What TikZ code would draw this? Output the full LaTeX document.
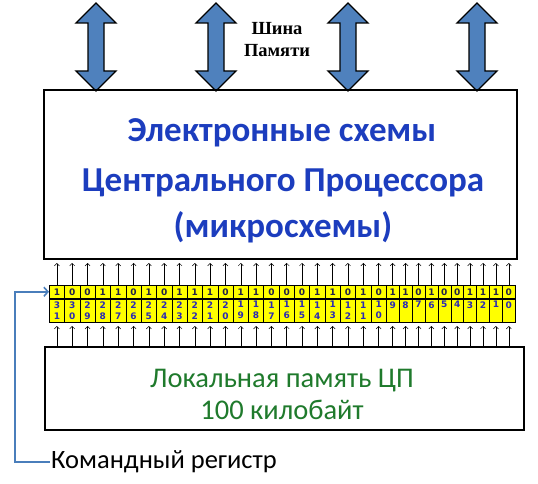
\documentclass[tikz,border=0pt]{standalone}
\usepackage{fontspec}
\setmainfont{Carlito}
\newfontfamily\busfont{Liberation Serif}
\newfontfamily\cellfont{DejaVu Sans}
\usetikzlibrary{positioning,arrows.meta}

\definecolor{busblue}{HTML}{4F81BD}
\definecolor{cpublue}{HTML}{1C3DBE}
\definecolor{memgreen}{HTML}{1F7A2C}
\definecolor{regyellow}{HTML}{FFFF00}
\definecolor{linkblue}{HTML}{4A7EBB}
\definecolor{bitnavy}{HTML}{22224A}
\definecolor{idxblue}{HTML}{2A2AB4}

% значения битов командного регистра (31 ... 0)
\def\regbits{{1,0,0,1,1,0,1,0,1,1,1,0,1,1,0,0,0,1,1,0,1,0,1,1,0,1,0,0,1,1,1,0}}

\begin{document}
\begin{tikzpicture}[x=1pt,y=-1pt,
    box/.style={draw,line width=2pt,inner sep=0pt},
    busarrow/.style={fill=busblue,draw=black,line width=1.3pt,line join=miter},
    valcell/.style={draw,line width=0.5pt,fill=regyellow,minimum height=13pt,inner sep=0pt,
        text=bitnavy,font=\cellfont\bfseries\fontsize{9}{9}\selectfont},
    idxcell/.style={draw,line width=0.5pt,fill=regyellow,minimum height=23pt,inner sep=0pt,
        align=center,text=idxblue,font=\cellfont\bfseries\fontsize{9}{11}\selectfont},
    wire/.style={-{Straight Barb[length=2.5pt,width=5pt]},line width=0.5pt},
    link/.style={-{Straight Barb[length=4pt,width=9pt]},draw=linkblue,line width=1.6pt}]

    \useasboundingbox (0,0) rectangle (538,484);

    % шина памяти
    \foreach \x in {96,216,348,477}
        \draw[busarrow] (\x,3) -- (\x+20,23) -- (\x+8,23) -- (\x+8,71) -- (\x+20,71)
            -- (\x,91) -- (\x-20,71) -- (\x-8,71) -- (\x-8,23) -- (\x-20,23) -- cycle;
    \node[font=\busfont\bfseries\fontsize{18.5}{22}\selectfont,align=center] (bus) at (277,40) {Шина\\Памяти};

    % центральный процессор
    \node[box,minimum width=473pt,minimum height=169pt] (cpu) at (280.5,174.5) {};
    \node[text=cpublue,font=\bfseries\fontsize{35}{38}\selectfont] (cpu1) at (282,133) {Электронные схемы};
    \node[text=cpublue,font=\bfseries\fontsize{35}{38}\selectfont] (cpu2) at (283,183) {Центрального Процессора};
    \node[text=cpublue,font=\bfseries\fontsize{35}{38}\selectfont] (cpu3) at (283,227) {(микросхемы)};

    % локальная память
    \node[box,minimum width=479pt,minimum height=83pt] (mem) at (284.5,388.5) {};
    \node[text=memgreen,font=\fontsize{28.5}{30}\selectfont] (mem1) at (282,381) {Локальная память ЦП};
    \node[text=memgreen,font=\fontsize{28.5}{30}\selectfont] (mem2) at (282,410) {100 килобайт};

    % командный регистр
    \foreach \i in {31,...,0} {
        \pgfmathsetmacro\w{\i>9 ? 15.32 : 12.9}
        \pgfmathsetmacro\xl{\i>9 ? 49+(31-\i)*15.32 : 386+(9-\i)*12.9}
        \pgfmathtruncatemacro\b{\regbits[31-\i]}
        \pgfmathtruncatemacro\tens{int(\i/10)}
        \pgfmathtruncatemacro\units{mod(\i,10)}
        \ifnum\i>9 \def\lbl{\tens\\\units}\else\def\lbl{\units\\\phantom{0}}\fi
        \node[valcell,minimum width=\w pt,anchor=north west] (v\i) at (\xl,285) {\b};
        \node[idxcell,minimum width=\w pt,anchor=north] (n\i) at (v\i.south) {\lbl};
        \draw[wire,shorten >=3pt] (v\i.north) -- (v\i.north |- cpu.south);
        \draw[wire,shorten >=4pt] (n\i.south |- mem.north) -- (n\i.south);
    }

    \node[anchor=west,inner sep=1pt,font=\fontsize{26.5}{28}\selectfont] (cmd) at (50,462) {Командный регистр};
    \draw[link] (cmd.west) -| ([xshift=-34pt]v31.west) -- (v31.west);

\end{tikzpicture}
\end{document}
